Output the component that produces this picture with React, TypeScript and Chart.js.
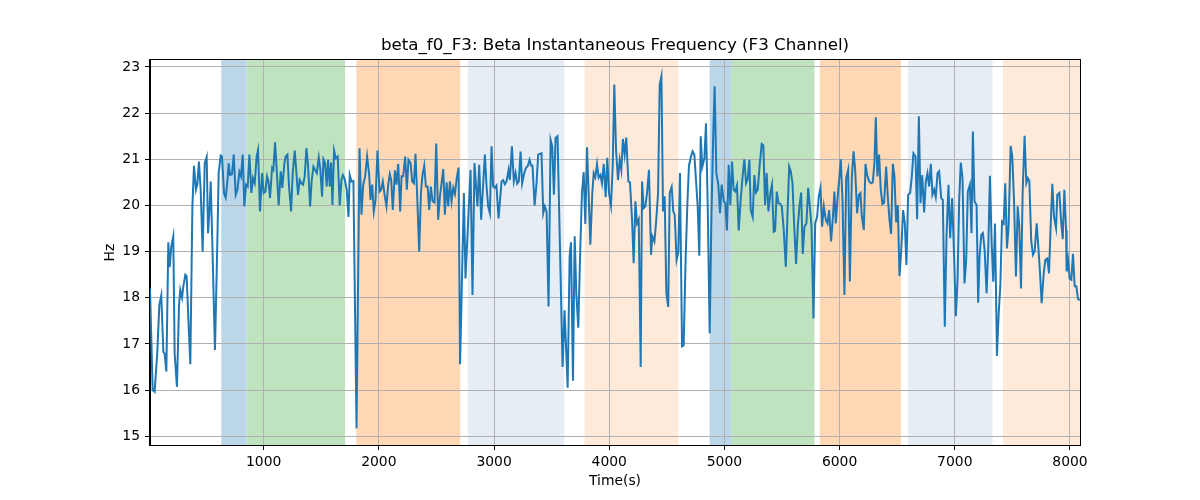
import React, { useEffect, useRef } from "react";
import { Chart, registerables } from "chart.js";

Chart.register(...registerables);

// Time (s) of each sample
const times = [
  13, 36, 53, 76, 94, 111, 129, 140, 155, 172, 184, 198, 215, 227, 247, 265, 276, 291, 302, 320,
  331, 349, 363, 381, 395, 412, 424, 438, 453, 470, 488, 505, 517, 531, 540, 554, 577, 598, 609, 627,
  638, 656, 670, 685, 696, 708, 725, 740, 757, 772, 789, 803, 818, 832, 847, 861, 876, 893,
  907, 922, 939, 951, 968, 986, 1000, 1015, 1029, 1041, 1055, 1073, 1084, 1099, 1113, 1130, 1148, 1162,
  1180, 1191, 1206, 1220, 1238, 1252, 1270, 1284, 1298, 1313, 1327, 1342, 1356, 1371, 1385, 1403, 1417,
  1432, 1446, 1461, 1478, 1492, 1507, 1519, 1533, 1547, 1559, 1574, 1585, 1597, 1611, 1626, 1643, 1660,
  1675, 1687, 1701, 1721, 1736, 1747, 1762, 1779, 1806,
  1832, 1849, 1864, 1881, 1898, 1916, 1927, 1942, 1956, 1971, 1988, 2006, 2020, 2034, 2052, 2066, 2081,
  2095, 2107, 2121, 2139, 2153, 2168, 2185, 2197, 2211, 2228, 2243, 2257, 2275, 2289, 2304, 2318, 2336,
  2350, 2365, 2379, 2394, 2408, 2423, 2437, 2451, 2466, 2483, 2498, 2515, 2530, 2544, 2559, 2573, 2588,
  2602, 2617, 2631, 2646, 2660, 2677, 2692, 2705,
  2738, 2752, 2796, 2813, 2830, 2856, 2871, 2888, 2920, 2935, 2949, 2964, 2978, 2992, 3007, 3021, 3039,
  3065, 3079, 3094, 3108, 3126, 3137, 3155, 3172, 3187, 3201, 3215, 3230, 3244, 3262, 3276, 3294, 3308,
  3323, 3334, 3352, 3369, 3383, 3412, 3427, 3441, 3456, 3473, 3491, 3505, 3520, 3534, 3551, 3595,
  3612, 3639, 3656, 3668, 3685, 3700, 3714, 3731, 3749, 3763, 3778, 3792, 3807, 3821, 3836, 3853, 3865,
  3879, 3894, 3908, 3923, 3937, 3952, 3969, 3983, 3998, 4015, 4030, 4044, 4059, 4076, 4091, 4105, 4119,
  4134, 4148, 4166, 4180, 4198, 4212, 4227, 4241, 4256, 4273, 4285, 4299, 4314, 4328, 4345, 4363, 4374,
  4392, 4406, 4424, 4438, 4453, 4467, 4481, 4496, 4512, 4525,
  4542, 4556, 4568, 4585, 4600, 4614, 4632, 4646, 4663, 4678, 4692, 4710, 4724, 4739, 4753, 4768, 4782,
  4794, 4808, 4826, 4840, 4855, 4872, 4886, 4901, 4915, 4930, 4947, 4962, 4976, 4994, 5008, 5022, 5037,
  5051, 5066, 5080, 5095, 5109, 5124, 5141, 5159, 5173, 5188, 5202, 5217, 5228, 5245, 5260, 5274, 5289,
  5306, 5324, 5338, 5353, 5367, 5382, 5399, 5413, 5428,
  5440, 5454, 5469, 5483, 5498, 5515, 5533, 5547, 5562, 5576, 5591, 5605, 5622, 5637, 5651, 5666, 5680,
  5695, 5712, 5727, 5741, 5756, 5773, 5788, 5805, 5819, 5834, 5848, 5863, 5880, 5895, 5909, 5926, 5941,
  5955, 5967, 5981, 5996, 6010, 6025, 6042, 6057, 6074, 6089, 6106, 6121, 6135, 6152, 6167, 6181, 6193,
  6210, 6225, 6239, 6257, 6274, 6288, 6303, 6314,
  6328, 6343, 6357, 6372, 6386, 6404, 6418, 6433, 6447, 6462, 6476, 6491, 6505, 6520, 6534, 6551, 6566,
  6580, 6595, 6612, 6627, 6641, 6659, 6673, 6688, 6702, 6717, 6734, 6748, 6763, 6777, 6792, 6806, 6821,
  6835, 6850, 6864, 6882, 6896, 6913, 6928, 6945, 6960, 6977, 6995, 7009, 7024, 7038, 7052, 7067, 7084,
  7099, 7113, 7131, 7145, 7157, 7171, 7189, 7203,
  7215, 7230, 7244, 7259, 7276, 7291, 7305, 7320, 7334, 7349, 7366, 7381, 7395, 7410, 7424, 7438, 7453,
  7467, 7485, 7499, 7514, 7531, 7546, 7560, 7575, 7589, 7606, 7621, 7635, 7647, 7664, 7679, 7693, 7711,
  7725, 7740, 7754, 7772, 7786, 7803, 7818, 7832, 7847, 7861, 7879, 7890, 7908, 7922, 7937, 7951, 7966,
  7971, 7983, 7997, 8012, 8026, 8041, 8055, 8070, 8087,
];

// Beta instantaneous frequency (Hz)
const freqs = [
  18.2, 16.0, 15.96, 16.8, 17.84, 18.05, 16.83, 16.79, 16.4, 19.2, 18.66, 19.11, 19.33, 16.79, 16.07, 17.84, 18.17, 18.0, 18.24, 18.5,
  18.47, 17.37, 16.56, 19.98, 20.86, 20.34, 20.45, 20.95, 20.34, 19.0, 20.91, 21.05, 19.4, 19.98, 20.52, 19.18, 16.87, 19.25, 20.7, 21.08,
  21.06, 20.26, 20.17, 20.52, 20.91, 20.66, 20.68, 21.1, 20.23, 20.34, 20.73, 20.63, 21.1, 19.98, 20.45, 20.41, 21.1, 20.27,
  20.59, 20.48, 21.06, 21.2, 19.87, 20.7, 20.27, 20.3, 20.63, 20.52, 20.16, 20.81, 20.77, 21.37, 20.77, 20.0, 20.74, 20.38,
  20.92, 21.06, 21.1, 20.41, 19.87, 20.7, 21.19, 20.7, 20.23, 20.55, 20.48, 20.45, 20.63, 21.24, 20.88, 19.98, 20.55,
  20.84, 20.77, 20.7, 21.04, 20.77, 20.19, 21.0, 20.92, 20.41, 20.99, 20.41, 20.93, 20.01, 21.19, 21.02, 21.06, 20.0,
  20.55, 20.66, 20.59, 20.34, 19.75, 20.66, 20.52, 20.53, 15.17,
  21.24, 19.8, 20.45, 20.63, 21.06, 20.66, 20.12, 20.45, 19.87, 20.12, 21.19, 20.3, 20.34, 20.52, 20.19, 19.98, 20.45,
  20.68, 20.55, 19.9, 20.76, 20.45, 20.9, 19.87, 20.63, 20.63, 21.06, 20.34, 20.99, 20.92, 20.52, 20.48, 21.12, 19.98,
  19.0, 20.27, 20.66, 20.86, 20.41, 20.41, 19.9, 20.41, 20.09, 20.06, 21.34, 19.69, 20.19, 20.48, 20.79, 19.8, 20.5,
  19.98, 20.52, 20.09, 20.38, 20.25, 20.61, 20.82, 16.56,
  20.27, 18.42, 20.77, 18.06, 20.92, 19.98, 20.88, 19.69, 21.1, 20.41, 19.98, 19.83, 21.28, 20.41, 20.38, 20.43, 19.72,
  20.52, 20.55, 20.46, 20.52, 20.77, 20.55, 21.28, 20.52, 20.7, 20.47, 20.52, 21.17, 20.48, 20.7, 20.81, 20.86, 20.99,
  20.86, 20.86, 20.0, 20.48, 21.1, 21.13, 19.83, 19.98, 19.87, 17.81, 21.42, 21.28, 20.23, 21.46, 21.5, 16.5,
  17.73, 16.05, 18.9, 19.2, 16.2, 19.33, 18.1, 17.35, 19.1, 20.27, 20.72, 19.6, 21.26, 20.27, 19.15, 20.27, 20.7,
  20.61, 20.9, 20.6, 20.66, 20.48, 20.9, 20.18, 21.03, 20.27, 20.0, 20.84, 22.62, 21.2, 20.55, 20.99, 20.77, 21.44,
  21.1, 21.47, 20.52, 20.5, 19.69, 18.75, 20.09, 19.61, 19.7, 16.5, 20.52, 19.94, 19.98, 20.27, 20.77, 18.93, 19.33,
  19.22, 19.61, 20.27, 22.62, 22.8, 19.87, 20.2, 18.1, 17.8, 20.27,
  20.4, 19.87, 19.8, 18.82, 19.0, 20.7, 16.95, 16.97, 18.82, 20.01, 20.86, 21.06, 21.17, 21.1, 20.55, 19.98, 18.91,
  21.5, 20.84, 21.02, 21.78, 19.98, 17.23, 19.61, 21.35, 22.58, 20.7, 20.45, 19.83, 20.45, 20.09, 20.05, 19.46, 20.88,
  20.01, 20.95, 20.34, 20.3, 20.43, 19.46, 20.12, 20.66, 21.0, 20.48, 20.57, 20.99, 19.9, 19.75, 20.66, 20.28, 20.34,
  20.88, 21.33, 21.3, 20.01, 20.7, 19.87, 20.27, 20.45, 19.43,
  19.45, 20.3, 20.05, 20.04, 19.98, 19.47, 18.67, 19.76, 20.84, 20.74, 20.48, 19.61, 18.73, 19.54, 19.98, 20.28, 18.95,
  19.54, 19.61, 20.38, 19.98, 19.54, 17.55, 19.61, 19.76, 20.19, 20.38, 19.54, 19.98, 19.69, 19.61, 19.9, 19.22, 19.72,
  20.3, 19.61, 20.12, 20.55, 21.0, 20.12, 18.06, 20.59, 20.77, 18.35, 20.59, 21.17, 20.77, 19.83, 20.23, 20.27, 19.76,
  19.47, 20.9, 20.66, 20.52, 20.48, 20.5, 20.95, 21.91,
  20.63, 21.1, 20.34, 20.03, 20.06, 20.84, 20.19, 19.69, 19.38, 20.9, 20.63, 19.63, 20.01, 18.47, 18.96, 19.9, 19.61,
  18.71, 20.23, 20.27, 20.63, 21.13, 21.06, 19.7, 21.93, 20.05, 20.66, 19.85, 20.52, 20.7, 20.41, 20.9, 20.23, 20.34,
  20.18, 20.7, 20.74, 20.16, 20.12, 17.37, 19.33, 20.45, 19.29, 20.16, 18.82, 17.6, 18.39, 20.12, 20.93, 20.59, 18.31,
  18.82, 20.3, 20.45, 19.4, 21.6, 20.09, 20.01, 17.89,
  18.9, 19.36, 19.4, 19.04, 18.1, 19.11, 20.64, 19.18, 18.35, 19.61, 16.74, 17.66, 18.24, 19.65, 19.61, 20.48, 19.07,
  19.54, 21.29, 21.06, 20.12, 18.46, 19.98, 19.54, 18.2, 20.27, 21.51, 20.48, 20.59, 20.53, 19.22, 18.93, 19.0, 19.61,
  19.11, 18.53, 17.88, 18.53, 18.82, 18.85, 18.53, 19.54, 20.47, 19.76, 19.51, 20.23, 20.27, 19.69, 19.27, 20.34, 19.47,
  18.57, 18.82, 18.42, 18.39, 18.95, 18.25, 18.25, 17.97, 17.95,
];

const xTicks = [1000, 2000, 3000, 4000, 5000, 6000, 7000, 8000];
const yTicks = [15, 16, 17, 18, 19, 20, 21, 22, 23];

// Shaded time windows (s)
const spanStarts = [632, 852, 1805, 2772, 3786, 4872, 5060, 5828, 6595, 7418];
const spanEnds = [850, 1707, 2706, 3610, 4600, 5060, 5782, 6532, 7328, 8087];

const SPAN_COLORS = [
  "rgba(31,119,180,0.3)",
  "rgba(44,160,44,0.3)",
  "rgba(255,127,14,0.3)",
  "rgba(176,196,222,0.3)",
  "rgba(255,160,80,0.22)",
  "rgba(31,119,180,0.3)",
  "rgba(44,160,44,0.3)",
  "rgba(255,127,14,0.3)",
  "rgba(176,196,222,0.3)",
  "rgba(255,160,80,0.22)",
];

const FONT = "'DejaVu Sans', sans-serif";

const spanPlugin = {
  id: "spans",
  beforeDraw(chart: any) {
    const { ctx, chartArea, scales } = chart;
    ctx.save();
    ctx.fillStyle = "#ffffff";
    ctx.fillRect(0, 0, chart.width, chart.height);
    for (let i = 0; i < spanStarts.length; i++) {
      let x0 = scales.x.getPixelForValue(spanStarts[i]);
      let x1 = scales.x.getPixelForValue(spanEnds[i]);
      x0 = Math.max(x0, chartArea.left);
      x1 = Math.min(x1, chartArea.right);
      ctx.fillStyle = SPAN_COLORS[i];
      ctx.fillRect(x0, chartArea.top, x1 - x0, chartArea.bottom - chartArea.top);
    }
    ctx.restore();
  },
  afterDraw(chart: any) {
    const { ctx, chartArea } = chart;
    ctx.save();
    ctx.strokeStyle = "#000000";
    ctx.lineWidth = 1;
    ctx.strokeRect(
      Math.round(chartArea.left) - 0.5,
      Math.round(chartArea.top) - 0.5,
      Math.round(chartArea.right - chartArea.left) + 1,
      Math.round(chartArea.bottom - chartArea.top) + 1
    );
    ctx.restore();
  },
};

export default function App() {
  const canvasRef = useRef<HTMLCanvasElement | null>(null);

  useEffect(() => {
    document.body.style.margin = "0";
    const canvas = canvasRef.current;
    if (!canvas) return;
    Chart.defaults.font.family = FONT;
    const chart = new Chart(canvas, {
      type: "line",
      data: {
        datasets: [
          {
            data: times.map((t, i) => ({ x: t, y: freqs[i] })),
            borderColor: "#1f77b4",
            borderWidth: 2,
            pointRadius: 0,
            fill: false,
            tension: 0,
          },
        ],
      },
      options: {
        animation: false,
        responsive: false,
        devicePixelRatio: 1,
        layout: { padding: { left: 0, right: 120, top: 0, bottom: 0 } },
        plugins: {
          legend: { display: false },
          tooltip: { enabled: false },
          title: {
            display: true,
            fullSize: false,
            text: "beta_f0_F3: Beta Instantaneous Frequency (F3 Channel)",
            color: "#000000",
            font: { family: FONT, size: 16.7, weight: "normal" },
            padding: { top: 36, bottom: 4 },
          },
        },
        scales: {
          x: {
            type: "linear",
            min: 13,
            max: 8087,
            afterBuildTicks: (scale: any) => {
              scale.ticks = xTicks.map((v) => ({ value: v }));
            },
            afterFit: (scale: any) => {
              scale.height = 55;
            },
            ticks: {
              color: "#000000",
              font: { family: FONT, size: 13.9 },
              padding: 4,
              maxRotation: 0,
              autoSkip: false,
              callback: (v: any) => String(v),
            },
            grid: {
              color: "#b0b0b0",
              lineWidth: 1,
              tickColor: "#000000",
              tickLength: 5,
            },
            border: { display: true, color: "#000000", width: 1 },
            title: {
              display: true,
              text: "Time(s)",
              color: "#000000",
              font: { family: FONT, size: 13.9 },
              padding: { top: 0, bottom: 10.7 },
            },
          },
          y: {
            type: "linear",
            min: 14.81,
            max: 23.15,
            afterBuildTicks: (scale: any) => {
              scale.ticks = yTicks.map((v) => ({ value: v }));
            },
            afterFit: (scale: any) => {
              scale.width = 150;
            },
            ticks: {
              color: "#000000",
              font: { family: FONT, size: 13.9 },
              padding: 5,
              autoSkip: false,
              callback: (v: any) => String(v),
            },
            grid: {
              color: "#b0b0b0",
              lineWidth: 1,
              tickColor: "#000000",
              tickLength: 5,
            },
            border: { display: true, color: "#000000", width: 1 },
            title: {
              display: true,
              text: "Hz",
              color: "#000000",
              font: { family: FONT, size: 13.9 },
              padding: { top: 101.7, bottom: 0 },
            },
          },
        },
      },
      plugins: [spanPlugin],
    } as any);
    return () => chart.destroy();
  }, []);

  return (
    <div style={{ width: 1200, height: 500, position: "relative" }}>
      <canvas ref={canvasRef} width={1200} height={500} style={{ display: "block" }} />
    </div>
  );
}
